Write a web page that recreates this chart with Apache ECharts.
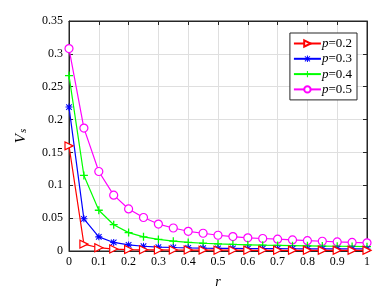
<!DOCTYPE html>
<html><head><meta charset="utf-8">
<script src="https://cdn.jsdelivr.net/npm/echarts@6/dist/echarts.min.js"></script>
<style>html,body{margin:0;padding:0;background:#fff}#c{width:384px;height:294px}</style>
</head><body><div id="c"></div>
<script>
const rValues = [0,0.05,0.1,0.15,0.2,0.25,0.3,0.35,0.4,0.45,0.5,0.55,0.6,0.65,0.7,0.75,0.8,0.85,0.9,0.95,1];
const seriesNames = ['p=0.2','p=0.3','p=0.4','p=0.5'];
const vsP02 = [0.160,0.0105,0.005,0.003,0.0022,0.0018,0.0016,0.0015,0.0014,0.0013,0.0012,0.0012,0.0011,0.0011,0.0011,0.0010,0.0010,0.0010,0.0010,0.0010,0.0010];
const vsP03 = [0.219,0.049,0.0215,0.013,0.0092,0.0072,0.006,0.0053,0.0048,0.0044,0.0041,0.0039,0.0037,0.0036,0.0035,0.0034,0.0033,0.0032,0.0032,0.0031,0.0031];
const vsP04 = [0.267,0.115,0.062,0.040,0.028,0.0215,0.0176,0.015,0.013,0.0118,0.0108,0.0100,0.0094,0.0089,0.0085,0.0081,0.0078,0.0075,0.0072,0.0069,0.0066];
const vsP05 = [0.308,0.187,0.121,0.085,0.064,0.051,0.041,0.035,0.030,0.027,0.024,0.022,0.020,0.019,0.018,0.0168,0.0157,0.0148,0.0138,0.0131,0.0125];
const xTicks = {min:0,max:1,interval:0.1};
const yTicks = {min:0,max:0.35,interval:0.05};

const font = '"Liberation Serif","Times New Roman",serif';
const star = 'path://M0 8.5L20 8.5L20 11.5L0 11.5ZM8.5 0L11.5 0L11.5 20L8.5 20ZM1 3.1L3.1 1L19 16.9L16.9 19ZM16.9 1L19 3.1L3.1 19L1 16.9Z';
const plus = 'path://M0 8.4L20 8.4L20 11.6L0 11.6ZM8.4 0L11.6 0L11.6 20L8.4 20Z';
const colors = ['#ff0000','#0000ff','#00ff00','#ff00ff'];
const vals = [vsP02,vsP03,vsP04,vsP05];
const symbols = [
  {symbol:'triangle',symbolSize:8,symbolRotate:-90,itemStyle:{color:'#fff',borderColor:'#ff0000',borderWidth:1.2}},
  {symbol:star,symbolSize:7,itemStyle:{color:'#0000ff'}},
  {symbol:plus,symbolSize:8,itemStyle:{color:'#00ff00'}},
  {symbol:'circle',symbolSize:8,itemStyle:{color:'#fff',borderColor:'#ff00ff',borderWidth:1.2}}
];
const series = seriesNames.map((n,i)=>Object.assign({
  name:n,type:'line',xAxisIndex:0,yAxisIndex:0,
  data:rValues.map((x,j)=>[x,vals[i][j]]),
  lineStyle:{color:colors[i],width:1.2},
  color:colors[i],showSymbol:true,animation:false,z:10-i
},symbols[i]));

const axisCommon = {
  axisLine:{show:true,onZero:false,lineStyle:{color:'#262626',width:1}},
  axisTick:{show:true,inside:true,length:4,lineStyle:{color:'#262626'}},
};
const chart = echarts.init(document.getElementById('c'));
chart.setOption({
  animation:false,
  grid:{left:69,right:17,top:21,bottom:41,show:true,borderColor:'#262626',borderWidth:1},
  legend:{
    data:seriesNames,orient:'vertical',right:27,top:33,
    backgroundColor:'#fff',borderColor:'#262626',borderWidth:1,borderRadius:0,
    padding:[4,5,4,3],itemGap:2.3,itemWidth:27,itemHeight:8,
    textStyle:{fontFamily:font,fontSize:13,color:'#000',padding:[0,0,0,-4],
      rich:{i:{fontFamily:font,fontSize:13,fontStyle:'italic',color:'#000'},n:{fontFamily:font,fontSize:13,color:'#000'}}},
    formatter:n=>'{i|p}{n|'+n.slice(1)+'}'
  },
  xAxis:[
    Object.assign({type:'value',position:'bottom',min:xTicks.min,max:xTicks.max,interval:xTicks.interval,
      name:'r',nameLocation:'middle',nameGap:24,
      nameTextStyle:{fontFamily:font,fontSize:14,fontStyle:'italic',color:'#000'},
      axisLabel:{fontFamily:font,fontSize:12,color:'#000',margin:5,formatter:v=>String(+v.toFixed(2))},
      splitLine:{show:true,lineStyle:{color:'#dfdfdf',width:1}}},axisCommon),
    Object.assign({type:'value',position:'top',min:xTicks.min,max:xTicks.max,interval:xTicks.interval,
      axisLabel:{show:false},splitLine:{show:false}},axisCommon)
  ],
  yAxis:[
    Object.assign({type:'value',position:'left',min:yTicks.min,max:yTicks.max,interval:yTicks.interval,
      name:'{v|V}{s|s}',nameLocation:'middle',nameGap:40,nameRotate:90,
      nameTextStyle:{rich:{v:{fontFamily:font,fontSize:15,fontStyle:'italic',color:'#000',verticalAlign:'bottom'},
        s:{fontFamily:font,fontSize:11,fontStyle:'italic',color:'#000',verticalAlign:'bottom',padding:[6,0,0,1]}}},
      axisLabel:{fontFamily:font,fontSize:12,color:'#000',margin:6,formatter:v=>String(+v.toFixed(2))},
      splitLine:{show:true,lineStyle:{color:'#dfdfdf',width:1}}},axisCommon),
    Object.assign({type:'value',position:'right',min:yTicks.min,max:yTicks.max,interval:yTicks.interval,
      axisLabel:{show:false},splitLine:{show:false}},axisCommon)
  ],
  series:series
});
</script></body></html>
